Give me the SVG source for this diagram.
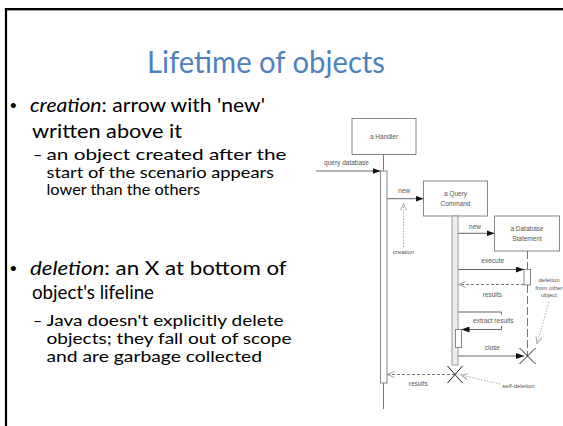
<svg xmlns="http://www.w3.org/2000/svg" width="563" height="426" viewBox="0 0 563 426">
<defs>
<style>
.title{font-family:Lato,"Liberation Sans",Arial,sans-serif;font-size:30px;fill:#4F81BD}
.main{font-family:Lato,"Liberation Sans",Arial,sans-serif;font-size:20px;fill:#000}
.sub{font-family:Lato,"Liberation Sans",Arial,sans-serif;font-size:16px;fill:#000}
.bul{font-family:"Liberation Sans",Arial,sans-serif;font-size:19px;fill:#000}
.lbl{font-family:"Liberation Sans",Arial,sans-serif;font-size:6.5px;fill:#555;text-anchor:middle}
.box{fill:#fff;stroke:#888;stroke-width:1}
.act{fill:#fff;stroke:#888;stroke-width:1}
.msg{stroke:#666;stroke-width:1;fill:none}
.ret{stroke:#777;stroke-width:1;fill:none;stroke-dasharray:3 2}
.note{stroke:#aaa;stroke-width:1;fill:none;stroke-dasharray:1.5 1.5}
.x{stroke:#222;stroke-width:1;fill:none}
</style>
<marker id="fa" markerWidth="8" markerHeight="6" refX="8" refY="3" orient="auto" markerUnits="userSpaceOnUse">
<path d="M0,0 L8,3 L0,6 Z" fill="#111"/>
</marker>
<marker id="oa" markerWidth="8" markerHeight="8" refX="7" refY="4" orient="auto" markerUnits="userSpaceOnUse">
<path d="M0,1 L7,4 L0,7" fill="none" stroke="#888" stroke-width="0.8"/>
</marker>
<marker id="na" markerWidth="8" markerHeight="8" refX="7" refY="4" orient="auto" markerUnits="userSpaceOnUse">
<path d="M0,1 L7,4 L0,7" fill="none" stroke="#aaa" stroke-width="1"/>
</marker>
</defs>
<rect width="563" height="426" fill="#fff"/>
<g id="frame">
<path d="M6,426 V9 H563" fill="none" stroke="#000" stroke-width="2.2"/>
<line x1="7" y1="10.6" x2="563" y2="10.6" stroke="#999" stroke-width="1"/>
</g>
<g id="title"><text class="title" x="266" y="73" text-anchor="middle" textLength="238" lengthAdjust="spacingAndGlyphs">Lifetime of objects</text></g>
<g id="bullets">
<text class="bul" x="10" y="112">•</text>
<text class="main" x="30" y="112" textLength="235" lengthAdjust="spacingAndGlyphs"><tspan font-style="italic">creation</tspan>:  arrow with 'new'</text>
<text class="main" x="32" y="138" textLength="150" lengthAdjust="spacingAndGlyphs">written above it</text>
<text class="sub" x="33" y="160">–</text>
<text class="sub" x="46.5" y="160" textLength="240" lengthAdjust="spacingAndGlyphs">an object created after the</text>
<text class="sub" x="46.5" y="177.5" textLength="227.5" lengthAdjust="spacingAndGlyphs">start of the scenario appears</text>
<text class="sub" x="46.5" y="195" textLength="153.5" lengthAdjust="spacingAndGlyphs">lower than the others</text>
<text class="bul" x="10" y="275">•</text>
<text class="main" x="30" y="275" textLength="256.7" lengthAdjust="spacingAndGlyphs"><tspan font-style="italic">deletion</tspan>: an X at bottom of</text>
<text class="main" x="32" y="298.5" textLength="122" lengthAdjust="spacingAndGlyphs">object's lifeline</text>
<text class="sub" x="33" y="326">–</text>
<text class="sub" x="46.5" y="326" textLength="237" lengthAdjust="spacingAndGlyphs">Java doesn't explicitly delete</text>
<text class="sub" x="46.5" y="344" textLength="245" lengthAdjust="spacingAndGlyphs">objects; they fall out of scope</text>
<text class="sub" x="46.5" y="362" textLength="215.5" lengthAdjust="spacingAndGlyphs">and are garbage collected</text>
</g>
<g id="handler">
<rect class="box" x="352" y="118.5" width="64" height="36"/>
<text class="lbl" x="384" y="139">a Handler</text>
<line x1="383.5" y1="154.5" x2="383.5" y2="171" stroke="#777"/>
<rect class="act" x="380.5" y="171" width="6.5" height="212"/>
<line x1="383.5" y1="383" x2="383.5" y2="409" stroke="#777"/>
</g>
<g id="query-command">
<rect class="box" x="423.5" y="181" width="64" height="35"/>
<text class="lbl" x="455.5" y="195.5">a Query</text>
<text class="lbl" x="455.5" y="206">Command</text>
<rect x="452" y="216" width="6" height="149" fill="#eee" stroke="#999"/>
<rect class="act" x="455.5" y="329.5" width="6" height="18"/>
</g>
<g id="database-statement">
<rect class="box" x="494.5" y="216" width="65" height="35"/>
<text class="lbl" x="527" y="231">a Database</text>
<text class="lbl" x="527" y="240.5">Statement</text>
<line x1="527.5" y1="251" x2="527.5" y2="269.5" stroke="#777" stroke-dasharray="8 3"/>
<rect class="act" x="524" y="269.5" width="6.5" height="15.5"/>
<line x1="527.5" y1="285" x2="527.5" y2="356" stroke="#777" stroke-dasharray="8 3"/>
</g>
<g id="connectors">
<line class="msg" x1="316" y1="171" x2="380.5" y2="171" marker-end="url(#fa)"/>
<text class="lbl" x="346.5" y="165">query database</text>
<line class="msg" x1="387" y1="198.7" x2="423.5" y2="198.7" marker-end="url(#fa)"/>
<text class="lbl" x="404.3" y="193">new</text>
<line class="msg" x1="458" y1="233.3" x2="494.5" y2="233.3" marker-end="url(#fa)"/>
<text class="lbl" x="475" y="229">new</text>
<line class="msg" x1="458" y1="269.5" x2="524" y2="269.5" marker-end="url(#fa)"/>
<text class="lbl" x="492.7" y="263">execute</text>
<line class="ret" x1="524" y1="284.5" x2="458.5" y2="284.5" marker-end="url(#oa)"/>
<text class="lbl" x="492.3" y="296.5">results</text>
<path class="msg" d="M458,312 H501.5 V314.5"/>
<path class="msg" d="M501.5,326 V329.5 H461.5" marker-end="url(#fa)"/>
<text class="lbl" x="493.3" y="323">extract results</text>
<line class="msg" x1="458" y1="356" x2="524" y2="356" marker-end="url(#fa)"/>
<text class="lbl" x="492.3" y="349.5">close</text>
<path class="x" d="M519.5,348 L535.5,364 M535.5,348 L519.5,364"/>
<line class="ret" x1="455" y1="374.5" x2="387.5" y2="374.5" marker-end="url(#oa)"/>
<text class="lbl" x="418.3" y="385.5">results</text>
<path class="x" d="M447.5,366 L462.5,383 M462.5,366 L447.5,383"/>
</g>
<g id="notes">
<line class="note" x1="403.5" y1="247" x2="403.5" y2="203.5" marker-end="url(#na)"/>
<text class="lbl" x="403.5" y="253.5" style="font-size:6px">creation</text>
<text class="lbl" x="549" y="282" style="font-size:6px">deletion</text>
<text class="lbl" x="549" y="289.7" style="font-size:6px">from other</text>
<text class="lbl" x="549" y="297.3" style="font-size:6px">object</text>
<line class="note" x1="549" y1="302" x2="537" y2="343.5" marker-end="url(#na)"/>
<text class="lbl" x="518.5" y="387.5" style="font-size:6px">self-deletion</text>
<line class="note" x1="500" y1="384" x2="461" y2="375" marker-end="url(#na)"/>
</g>
</svg>
